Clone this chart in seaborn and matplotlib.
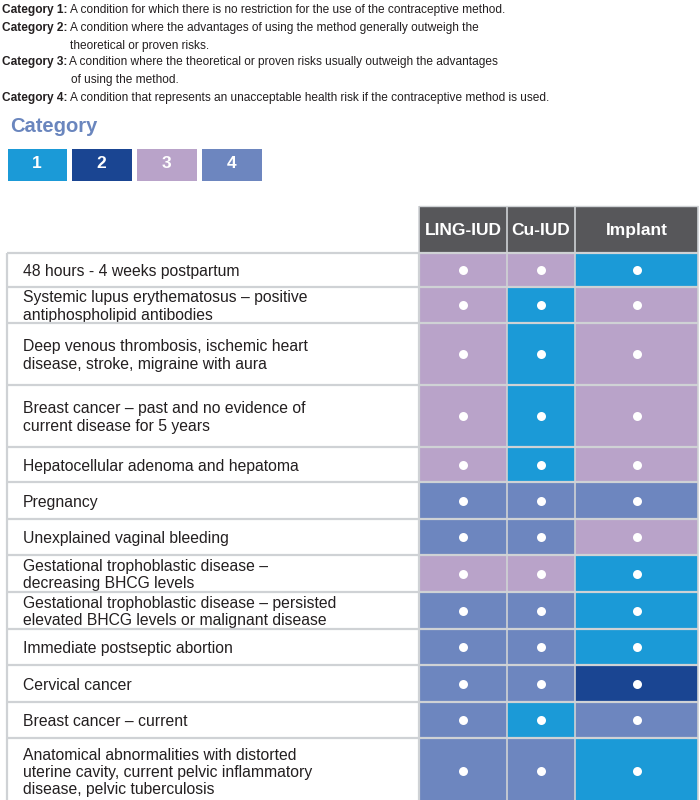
"""
MEC category chart for LNG-IUD, Cu-IUD and implant.
"""

import matplotlib
matplotlib.use("Agg")
import matplotlib.pyplot as plt
import numpy as np
import pandas as pd
import seaborn as sns
from matplotlib.colors import ListedColormap

sns.set_theme(style="white")
plt.rcParams['font.family'] = ['Liberation Sans', 'DejaVu Sans']

# Data
CATEGORY_LABELS = ['Category 1:', 'Category 2:', 'Category 3:', 'Category 4:']
CATEGORY_TEXT = [
    ['A condition for which there is no restriction for the use of the contraceptive method.'],
    ['A condition where the advantages of using the method generally outweigh the',
     'theoretical or proven risks.'],
    ['A condition where the theoretical or proven risks usually outweigh the advantages',
     'of using the method.'],
    ['A condition that represents an unacceptable health risk if the contraceptive method is used.'],
]
CATEGORIES = [1, 2, 3, 4]
METHODS = ['LING-IUD', 'Cu-IUD', 'Implant']
CONDITIONS = [
    '48 hours - 4 weeks postpartum',
    'Systemic lupus erythematosus \u2013 positive\nantiphospholipid antibodies',
    'Deep venous thrombosis, ischemic heart\ndisease, stroke, migraine with aura',
    'Breast cancer \u2013 past and no evidence of\ncurrent disease for 5 years',
    'Hepatocellular adenoma and hepatoma',
    'Pregnancy',
    'Unexplained vaginal bleeding',
    'Gestational trophoblastic disease \u2013\ndecreasing BHCG levels',
    'Gestational trophoblastic disease \u2013 persisted\nelevated BHCG levels or malignant disease',
    'Immediate postseptic abortion',
    'Cervical cancer',
    'Breast cancer \u2013 current',
    'Anatomical abnormalities with distorted\nuterine cavity, current pelvic inflammatory\ndisease, pelvic tuberculosis',
]
LNG_IUD = [3, 3, 3, 3, 3, 4, 4, 3, 4, 4, 4, 4, 4]
CU_IUD = [3, 1, 1, 1, 1, 4, 4, 3, 4, 4, 4, 1, 4]
IMPLANT = [1, 3, 3, 3, 3, 4, 3, 1, 1, 1, 2, 4, 1]

# Style / layout (pixel units of a 700x800 canvas)
COLORS = ['#1b9ad7', '#1a4592', '#b9a3c9', '#6d86bf']
HEADER_COLOR = '#57575a'
BORDER_COLOR = '#cfd2d5'
TEXT_COLOR = '#231f20'
ROW_HEIGHTS = [34, 36, 62, 62, 35, 37, 36, 37, 37, 36, 37, 36, 66]
TABLE_TOP = 253
HEADER_TOP = 206
COL_EDGES = [419, 507, 575, 698]
LEFT = 7

W, H = 700, 800

df = pd.DataFrame({'LING-IUD': LNG_IUD, 'Cu-IUD': CU_IUD, 'Implant': IMPLANT},
                  index=CONDITIONS)
cmap = ListedColormap(COLORS)

fig = plt.figure(figsize=(7, 8), dpi=100)
ax = fig.add_axes([0, 0, 1, 1])
ax.set_xlim(0, W)
ax.set_ylim(H, 0)
ax.axis('off')

# Category definitions
line_y = [8, 26, 44, 61, 79, 96]
li = 0
fig.canvas.draw()
renderer = fig.canvas.get_renderer()
for label, lines in zip(CATEGORY_LABELS, CATEGORY_TEXT):
    t = ax.text(2, line_y[li], label, fontsize=8.6, fontweight='bold',
                color=TEXT_COLOR, va='center_baseline', ha='left')
    bb = t.get_window_extent(renderer)
    x_reg = bb.x1 + 2
    for j, ln in enumerate(lines):
        ax.text(x_reg + (2 if (j > 0 and label == 'Category 3:') else 0), line_y[li], ln,
                fontsize=8.6, color=TEXT_COLOR, va='center_baseline', ha='left')
        li += 1

# Heading
ax.text(10, 125, 'Category', fontsize=14.5, fontweight='bold', color='#6a86be',
        va='center_baseline', ha='left')

# Legend boxes via seaborn heatmap
pad = 2.5
lax = fig.add_axes([(LEFT - pad) / W, 1 - (180 + pad) / H,
                    (261 - LEFT + 2 * pad) / W, (32 + 2 * pad) / H])
sns.heatmap(np.array([CATEGORIES]), ax=lax, cmap=cmap, vmin=0.5, vmax=4.5, cbar=False,
            annot=True, fmt='d', linewidths=3.6, linecolor='white',
            annot_kws={'color': 'white', 'fontweight': 'bold', 'fontsize': 12.5},
            xticklabels=False, yticklabels=False)

# Header
ax.pcolormesh(COL_EDGES, [HEADER_TOP, TABLE_TOP], np.zeros((1, len(METHODS))),
              cmap=ListedColormap([HEADER_COLOR]))
for i, m in enumerate(METHODS):
    ax.text((COL_EDGES[i] + COL_EDGES[i + 1]) / 2, (HEADER_TOP + TABLE_TOP) / 2 + 1, m,
            color='white', fontweight='bold', fontsize=12.5, ha='center', va='center')

# Table cells
row_edges = TABLE_TOP + np.concatenate([[0], np.cumsum(ROW_HEIGHTS)])
ax.pcolormesh(COL_EDGES, row_edges, df[METHODS].to_numpy(), cmap=cmap,
              vmin=0.5, vmax=4.5)

row_centers = (row_edges[:-1] + row_edges[1:]) / 2
col_centers = [(COL_EDGES[i] + COL_EDGES[i + 1]) / 2 for i in range(len(METHODS))]
for cx in col_centers:
    ax.scatter(np.full(len(row_centers), cx), row_centers, s=42, color='white',
               linewidths=0, zorder=4)

for yc, cond in zip(row_centers, df.index):
    ax.text(23, yc + 1.5, cond, fontsize=11.3, color=TEXT_COLOR, ha='left', va='center',
            linespacing=1.2)

# Borders
ax.hlines(row_edges, LEFT, COL_EDGES[-1], color=BORDER_COLOR, lw=1.6, zorder=3)
ax.vlines([LEFT, COL_EDGES[0]], TABLE_TOP, row_edges[-1],
          color=BORDER_COLOR, lw=1.6, zorder=3)
ax.vlines(COL_EDGES, HEADER_TOP, row_edges[-1], color=BORDER_COLOR, lw=1.2, zorder=3)
ax.hlines(HEADER_TOP, COL_EDGES[0], COL_EDGES[-1], color=BORDER_COLOR, lw=1.0, zorder=3)

fig.savefig('out.png', dpi=100)
plt.close(fig)
